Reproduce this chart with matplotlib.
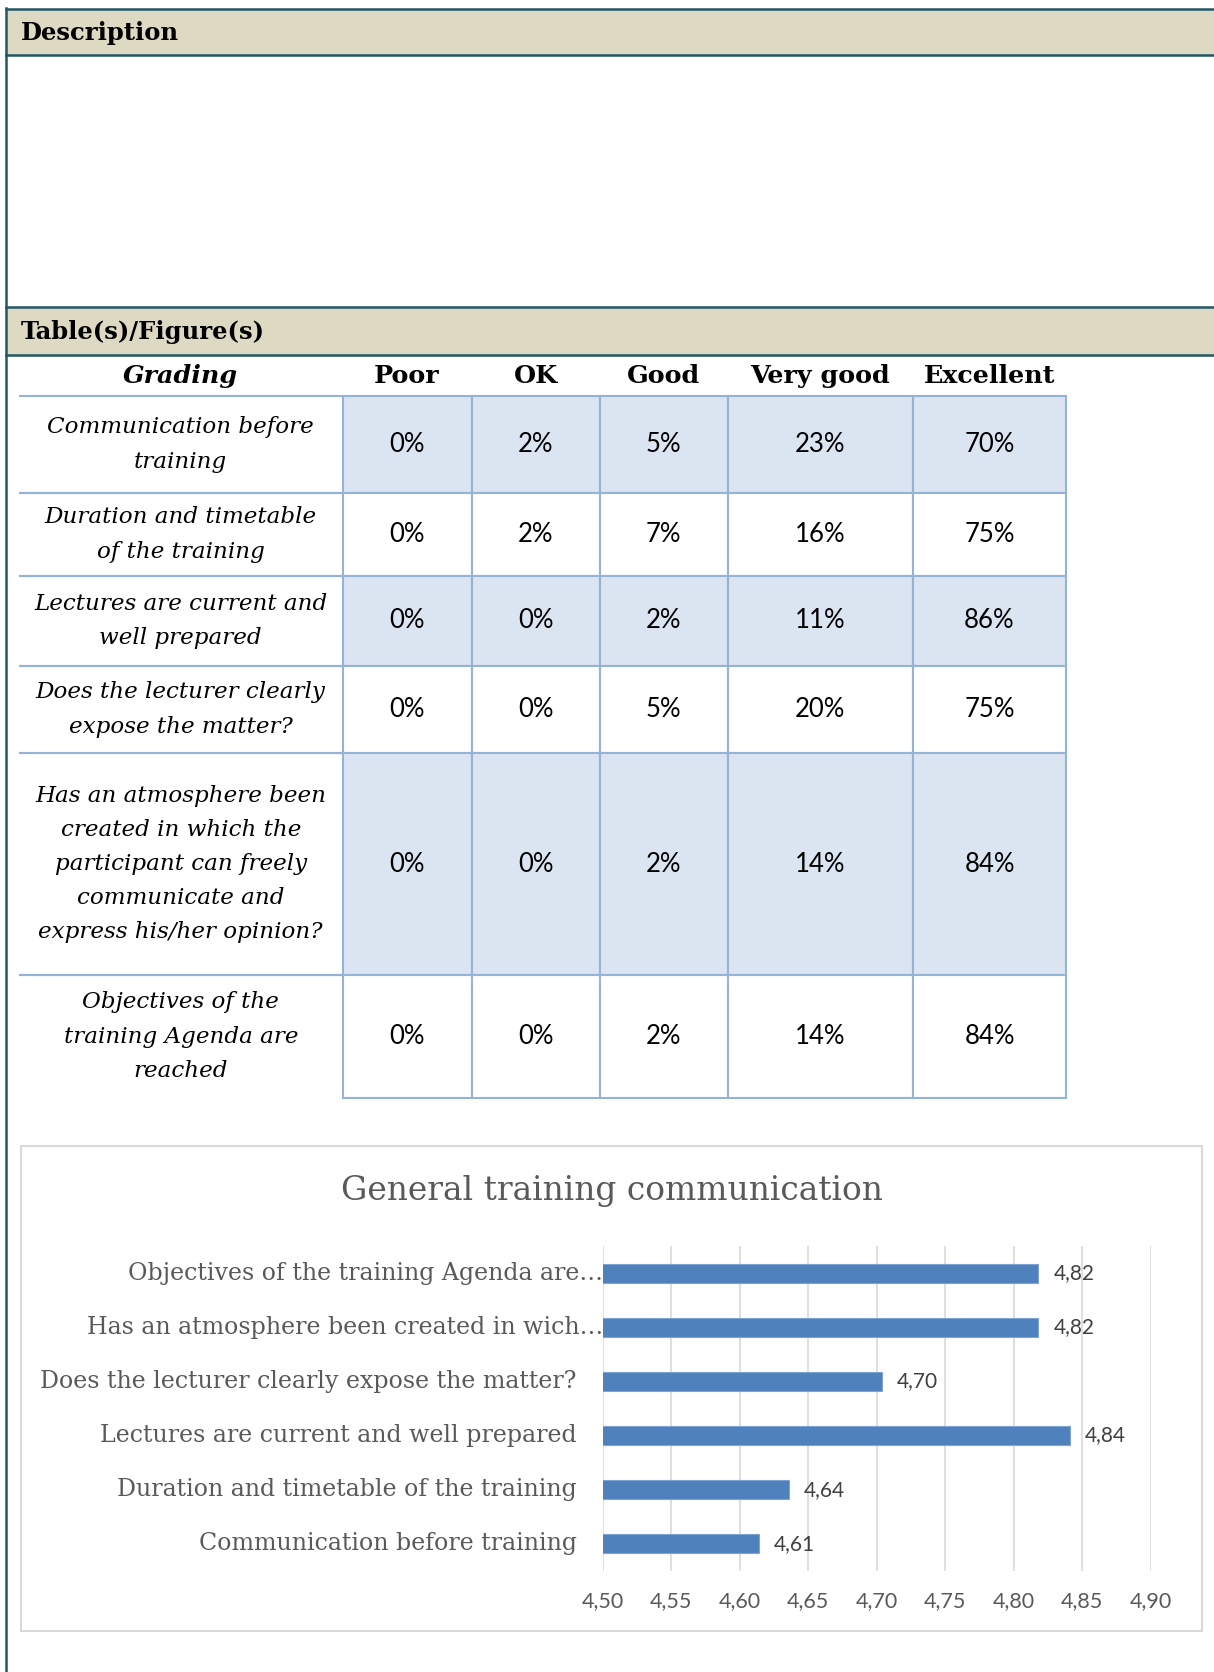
import matplotlib.pyplot as plt
from matplotlib.patches import Rectangle
from matplotlib.ticker import FuncFormatter

# --- data ---
grades = ["Poor", "OK", "Good", "Very good", "Excellent"]
questions = [
    "Communication before\ntraining",
    "Duration and timetable\nof the training",
    "Lectures are current and\nwell prepared",
    "Does the lecturer clearly\nexpose the matter?",
    "Has an atmosphere been\ncreated in which the\nparticipant can freely\ncommunicate and\nexpress his/her opinion?",
    "Objectives of the\ntraining Agenda are\nreached",
]
poor = [0, 0, 0, 0, 0, 0]
ok = [2, 2, 0, 0, 0, 0]
good = [5, 7, 2, 5, 2, 2]
very_good = [23, 16, 11, 20, 14, 14]
excellent = [70, 75, 86, 75, 84, 84]

chart_labels = [
    "Communication before training",
    "Duration and timetable of the training",
    "Lectures are current and well prepared",
    "Does the lecturer clearly expose the matter?",
    "Has an atmosphere been created in wich…",
    "Objectives of the training Agenda are…",
]
# bar lengths as measured (labels round to 2 decimals)
chart_scores = [4.614, 4.636, 4.841, 4.704, 4.818, 4.818]
x_ticks = [4.50, 4.55, 4.60, 4.65, 4.70, 4.75, 4.80, 4.85, 4.90]

# --- layout (pixels) ---
W, H = 1214, 1672
TEAL = "#215868"
BEIGE = "#DDD9C3"
GRID_BLUE = "#95B3D7"
SHADE = "#DBE5F1"
SERIF = ["DejaVu Serif"]
SANS = ["Lato", "DejaVu Sans"]


def comma(v):
    return f"{v:.2f}".replace(".", ",")


fig = plt.figure(figsize=(W / 100, H / 100), dpi=100)

# page frame and section headers
bg = fig.add_axes([0, 0, 1, 1])
bg.set_xlim(0, W)
bg.set_ylim(H, 0)
bg.axis("off")
for top, bottom, title in [(9, 55, "Description"), (307, 355, "Table(s)/Figure(s)")]:
    bg.add_patch(Rectangle((6, top), W, bottom - top, facecolor=BEIGE, edgecolor="none"))
    bg.plot([6, W], [top, top], color=TEAL, lw=1.8)
    bg.plot([6, W], [bottom, bottom], color=TEAL, lw=1.8)
    bg.text(21, (top + bottom) / 2 + 1, title, fontsize=17.5, fontweight="bold",
            family=SERIF, va="center", ha="left", color="black")
bg.plot([6, 6], [8, H], color=TEAL, lw=1.8)
# chart frame
bg.add_patch(Rectangle((21, 1146), 1181, 485, facecolor="white", edgecolor="#D9D9D9", lw=1.5))

# --- table ---
col_px = [323.5, 129, 128, 128, 185.5, 153]
row_px = [40, 97, 83, 90, 87, 222, 123]
t_left, t_top = 19, 356
t_w, t_h = sum(col_px), sum(row_px)
tax = fig.add_axes([t_left / W, 1 - (t_top + t_h) / H, t_w / W, t_h / H])
tax.axis("off")

series = [poor, ok, good, very_good, excellent]
cell_text = [[q] + [f"{s[i]}%" for s in series] for i, q in enumerate(questions)]
tbl = tax.table(cellText=cell_text, colLabels=["Grading"] + grades,
                cellLoc="center", bbox=[0, 0, 1, 1])
tbl.auto_set_font_size(False)
n_rows = len(questions) + 1
for (r, c), cell in tbl.get_celld().items():
    cell.set_width(col_px[c] / t_w)
    cell.set_height(row_px[r] / t_h)
    cell.set_edgecolor(GRID_BLUE)
    cell.set_linewidth(1.5)
    txt = cell.get_text()
    if r == 0:
        cell.visible_edges = "open"
        txt.set_family(SERIF)
        txt.set_fontsize(18.3)
        txt.set_fontweight("bold")
        if c == 0:
            txt.set_fontstyle("italic")
    elif c == 0:
        cell.visible_edges = "T" if r == n_rows - 1 else "TB"
        txt.set_family(SERIF)
        txt.set_fontstyle("italic")
        txt.set_fontsize(16.6)
        txt.set_linespacing(1.72)
    else:
        cell.visible_edges = "closed"
        cell.set_facecolor(SHADE if r % 2 == 1 else "white")
        txt.set_family(SANS)
        txt.set_fontsize(18.5)

# --- bar chart ---
ax_l, ax_r, ax_t, ax_b = 602.5, 1150.5, 1246, 1571
ax = fig.add_axes([ax_l / W, 1 - ax_b / H, (ax_r - ax_l) / W, (ax_b - ax_t) / H])
ypos = list(range(len(chart_scores)))
bars = ax.barh(ypos, chart_scores, height=0.35, left=0, color="#4F81BD",
               edgecolor="#7FA3D3", linewidth=0.8, zorder=3)
ax.set_xlim(x_ticks[0], x_ticks[-1])
ax.set_ylim(-0.5, len(chart_scores) - 0.5)
ax.set_xticks(x_ticks)
ax.xaxis.set_major_formatter(FuncFormatter(lambda v, p: comma(v)))
ax.grid(axis="x", color="#D9D9D9", lw=1.2, zorder=0)
ax.tick_params(axis="x", length=0, pad=14.5, labelsize=15.5, labelcolor="#595959")
for lab in ax.get_xticklabels():
    lab.set_family(SANS)
ax.set_yticks([])
for s in ax.spines.values():
    s.set_visible(False)
ax.bar_label(bars, labels=[comma(v) for v in chart_scores],
             padding=11, fontsize=15, color="#404040", family=SANS)
for y, lab in zip(ypos, chart_labels):
    off = 0.5 if lab.endswith("…") else -18.6
    ax.annotate(lab, xy=(0, y), xycoords=("axes fraction", "data"),
                xytext=(off, 0), textcoords="offset points", ha="right", va="center",
                fontsize=17.1, color="#595959", family=SERIF)

bg.text(612, 1191, "General training communication", fontsize=23.7, family=SERIF,
        color="#595959", ha="center", va="center")

fig.savefig("out.png", dpi=100)
